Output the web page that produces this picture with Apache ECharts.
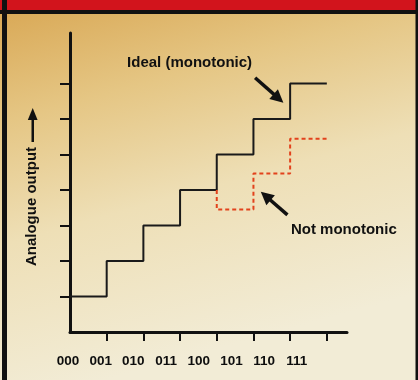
<!DOCTYPE html>
<html>
<head>
<meta charset="utf-8">
<script src="https://cdn.jsdelivr.net/npm/echarts@6/dist/echarts.min.js"></script>
<style>
  html, body { margin: 0; padding: 0; }
  #chart { width: 418px; height: 380px; }
</style>
</head>
<body>
<div id="chart"></div>
<script>
// Digital input codes of a 3-bit DAC
const codes = ['000', '001', '010', '011', '100', '101', '110', '111'];
// Ideal output level for codes 000 … 110 (staircase rises one step per code)
const idealLevels = [0, 1, 2, 3, 4, 5, 6];
// Faulty converter: output for codes 100, 101, 110 drops below the previous step
const faultyStartCode = 4;
const faultyLevels = [2.45, 3.46, 4.44];
// Output-level ticks on the vertical axis
const levelTicks = [0, 1, 2, 3, 4, 5, 6];
// Tick marks along the input axis
const codeTicks = [1, 2, 3, 4, 5, 6, 7];

const FONT = "'Liberation Sans', Arial, sans-serif";
const lastCode = idealLevels.length;                 // 7 -> code 111
const lastIdeal = idealLevels[idealLevels.length - 1];

// staircase points, drawn with step:'end'
const idealData = idealLevels.map((v, i) => [i, v]).concat([[lastCode, lastIdeal]]);
const faultyData = [[faultyStartCode, idealLevels[faultyStartCode - 1]]]
  .concat(faultyLevels.map((v, i) => [faultyStartCode + i, v]))
  .concat([[lastCode, faultyLevels[faultyLevels.length - 1]]]);

const chart = echarts.init(document.getElementById('chart'), null, { renderer: 'canvas' });

const arrowLine = (from, to) => [{ coord: from }, { coord: to }];

chart.setOption({
  animation: false,
  graphic: {
    elements: [
      {
        type: 'rect', z: -100, silent: true,
        shape: { x: 0, y: 0, width: 418, height: 380 },
        style: {
          fill: {
            type: 'linear', x: 0, y: 0, x2: 0.25, y2: 1,
            colorStops: [
              { offset: 0, color: '#d8a652' },
              { offset: 0.3, color: '#e5c684' },
              { offset: 0.6, color: '#eedfb6' },
              { offset: 1, color: '#f2ecd6' }
            ]
          }
        }
      },
      // header band
      { type: 'rect', silent: true, shape: { x: 0, y: 0, width: 418, height: 10 }, style: { fill: '#d2141c' } },
      { type: 'rect', silent: true, shape: { x: 0, y: 10, width: 418, height: 4 }, style: { fill: '#111' } },
      // side rules
      { type: 'rect', silent: true, shape: { x: 2, y: 0, width: 5, height: 380 }, style: { fill: '#111' } },
      { type: 'rect', silent: true, shape: { x: 415.5, y: 0, width: 2.5, height: 380 }, style: { fill: '#111' } },
      // arrow beside the vertical axis title
      { type: 'rect', silent: true, shape: { x: 31.5, y: 117, width: 2.5, height: 25 }, style: { fill: '#111' } },
      { type: 'polygon', silent: true, shape: { points: [[27.8, 120], [37.6, 120], [32.7, 108]] }, style: { fill: '#111' } }
    ]
  },
  grid: [
    { left: 70, top: 33, width: 277, bottom: 48 },
    { left: 51.6, top: 33, width: 261.6, bottom: 47 }
  ],
  xAxis: [
    {
      type: 'value', gridIndex: 0, min: 0, max: 7.55,
      axisLine: { show: true, onZero: false, lineStyle: { color: '#111', width: 3 } },
      axisTick: { show: true, customValues: codeTicks, length: 9, lineStyle: { color: '#111', width: 2 } },
      axisLabel: { show: false },
      splitLine: { show: false }
    },
    {
      type: 'category', gridIndex: 1, data: codes, boundaryGap: true,
      axisLine: { show: false }, axisTick: { show: false }, splitLine: { show: false },
      axisLabel: { show: true, interval: 0, margin: 21, fontFamily: FONT, fontWeight: 'bold', fontSize: 13.5, color: '#0d0d0d' }
    }
  ],
  yAxis: [
    {
      type: 'value', gridIndex: 0, min: -1, max: 7.42,
      name: 'Analogue output',
      nameLocation: 'middle', nameRotate: 90, nameGap: 31,
      nameTextStyle: { fontFamily: FONT, fontWeight: 'bold', fontSize: 15, color: '#111', padding: [0, 48, 0, 0] },
      axisLine: { show: true, onZero: false, lineStyle: { color: '#111', width: 3 } },
      axisTick: { show: true, customValues: levelTicks, length: 10, lineStyle: { color: '#111', width: 2 } },
      axisLabel: { show: false },
      splitLine: { show: false }
    },
    { type: 'value', gridIndex: 1, show: false, min: 0, max: 1 }
  ],
  series: [
    {
      type: 'line', xAxisIndex: 0, yAxisIndex: 0,
      step: 'end', data: idealData, symbol: 'none', clip: false,
      lineStyle: { color: '#1a1a1a', width: 2 },
      markLine: {
        silent: true, symbol: ['none', 'triangle'], symbolSize: 13,
        label: { show: false },
        itemStyle: { color: '#111' },
        lineStyle: { color: '#111', width: 3.5, type: 'solid' },
        data: [
          arrowLine([5.045, 6.16], [5.683, 5.58]),
          arrowLine([5.926, 2.30], [5.334, 2.83])
        ]
      },
      markPoint: {
        silent: true, symbol: 'rect', symbolSize: 1,
        itemStyle: { color: 'rgba(0,0,0,0)' },
        label: { show: true, position: 'inside', fontFamily: FONT, fontWeight: 'bold', fontSize: 15, color: '#111' },
        data: [
          { coord: [3.259, 6.577], value: 'Ideal (monotonic)', label: { formatter: 'Ideal (monotonic)' } },
          { coord: [7.464, 1.873], value: 'Not monotonic', label: { formatter: 'Not monotonic' } }
        ]
      }
    },
    {
      type: 'line', xAxisIndex: 0, yAxisIndex: 0,
      step: 'end', data: faultyData, symbol: 'none', clip: false,
      lineStyle: { color: '#e2421c', width: 2, type: [4, 3] }
    }
  ]
});
</script>
</body>
</html>
